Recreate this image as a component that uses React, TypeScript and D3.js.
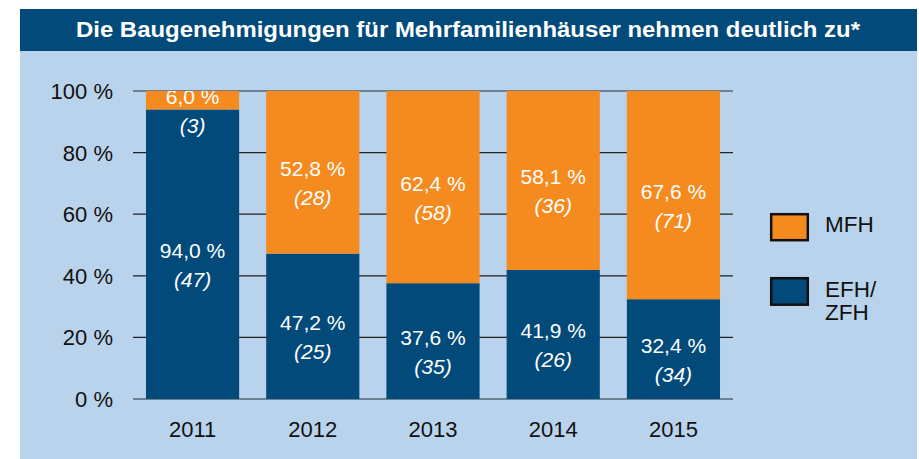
import React from "react";
import * as d3 from "d3";

const years = ["2011", "2012", "2013", "2014", "2015"];
const efhPct = [94.0, 47.2, 37.6, 41.9, 32.4];
const mfhPct = [6.0, 52.8, 62.4, 58.1, 67.6];
const efhCount = [47, 25, 35, 26, 34];
const mfhCount = [3, 28, 58, 36, 71];
const yTicks = [0, 20, 40, 60, 80, 100];
const title = "Die Baugenehmigungen für Mehrfamilienhäuser nehmen deutlich zu*";

const ORANGE = "#F58A1F";
const BLUE = "#014A7A";
const BG = "#B9D3EC";
const FONT = "'Liberation Sans', Arial, Helvetica, sans-serif";

const fmt = (v: number) => v.toFixed(1).replace(".", ",") + " %";

export default function App() {
  const W = 919, H = 459;
  const x = d3.scaleBand<string>().domain(years).range([133, 733]).paddingInner(0.225).paddingOuter(0.108);
  const y = d3.scaleLinear().domain([0, 100]).range([399, 91]);

  const segs = years.flatMap((yr, i) => [
    { yr, key: "efh", y0: 0, y1: efhPct[i], pct: efhPct[i], cnt: efhCount[i], color: BLUE },
    { yr, key: "mfh", y0: efhPct[i], y1: 100, pct: mfhPct[i], cnt: mfhCount[i], color: ORANGE },
  ]);

  return (
    <svg width={W} height={H} style={{ position: "absolute", left: 0, top: 0 }} fontFamily={FONT}>
      <defs>
        <clipPath id="plotclip">
          <rect x={0} y={y(100)} width={W} height={y(0) - y(100)} />
        </clipPath>
      </defs>
      <rect x={20} y={9} width={897} height={42} fill={BLUE} />
      <rect x={20} y={51} width={897} height={408} fill={BG} />
      <text x={76} y={37} fill="#fff" fontWeight="bold" fontSize={22.5} textLength={784} lengthAdjust="spacingAndGlyphs">{title}</text>

      {yTicks.map((t) => (
        <g key={t}>
          <line x1={133} x2={733} y1={y(t)} y2={y(t)} stroke={t === 0 || t === 100 ? "#556677" : "#222"} strokeWidth={1.3} />
          <text x={113} y={y(t)} dy="0.36em" textAnchor="end" fontSize={22} fill="#111">{`${t} %`}</text>
        </g>
      ))}

      {segs.map((s) => (
        <rect key={s.yr + s.key} x={x(s.yr)} width={x.bandwidth()} y={y(s.y1)} height={y(s.y0) - y(s.y1)} fill={s.color} />
      ))}

      <g clipPath="url(#plotclip)">
        {segs.map((s) => {
          const cx = (x(s.yr) as number) + x.bandwidth() / 2;
          const cy = (y(s.y0) + y(s.y1)) / 2;
          return (
            <g key={"l" + s.yr + s.key} fill="#fff" textAnchor="middle" fontSize={21}>
              <text x={cx} y={cy + 3.5}>{fmt(s.pct)}</text>
              <text x={cx} y={cy + 33} fontStyle="italic">{`(${s.cnt})`}</text>
            </g>
          );
        })}
      </g>

      {years.map((yr) => (
        <text key={"x" + yr} x={(x(yr) as number) + x.bandwidth() / 2} y={437} textAnchor="middle" fontSize={22} fill="#111">{yr}</text>
      ))}

      <rect x={771.2} y={214.2} width={36.6} height={26} fill={ORANGE} stroke="#111" strokeWidth={2.5} />
      <rect x={771.2} y={278.2} width={36.6} height={26.5} fill={BLUE} stroke="#111" strokeWidth={2.5} />
      <text x={825} y={232} fontSize={22.5} fill="#111">MFH</text>
      <text x={825} y={297} fontSize={22.5} fill="#111">EFH/</text>
      <text x={825} y={320} fontSize={22.5} fill="#111">ZFH</text>
    </svg>
  );
}
